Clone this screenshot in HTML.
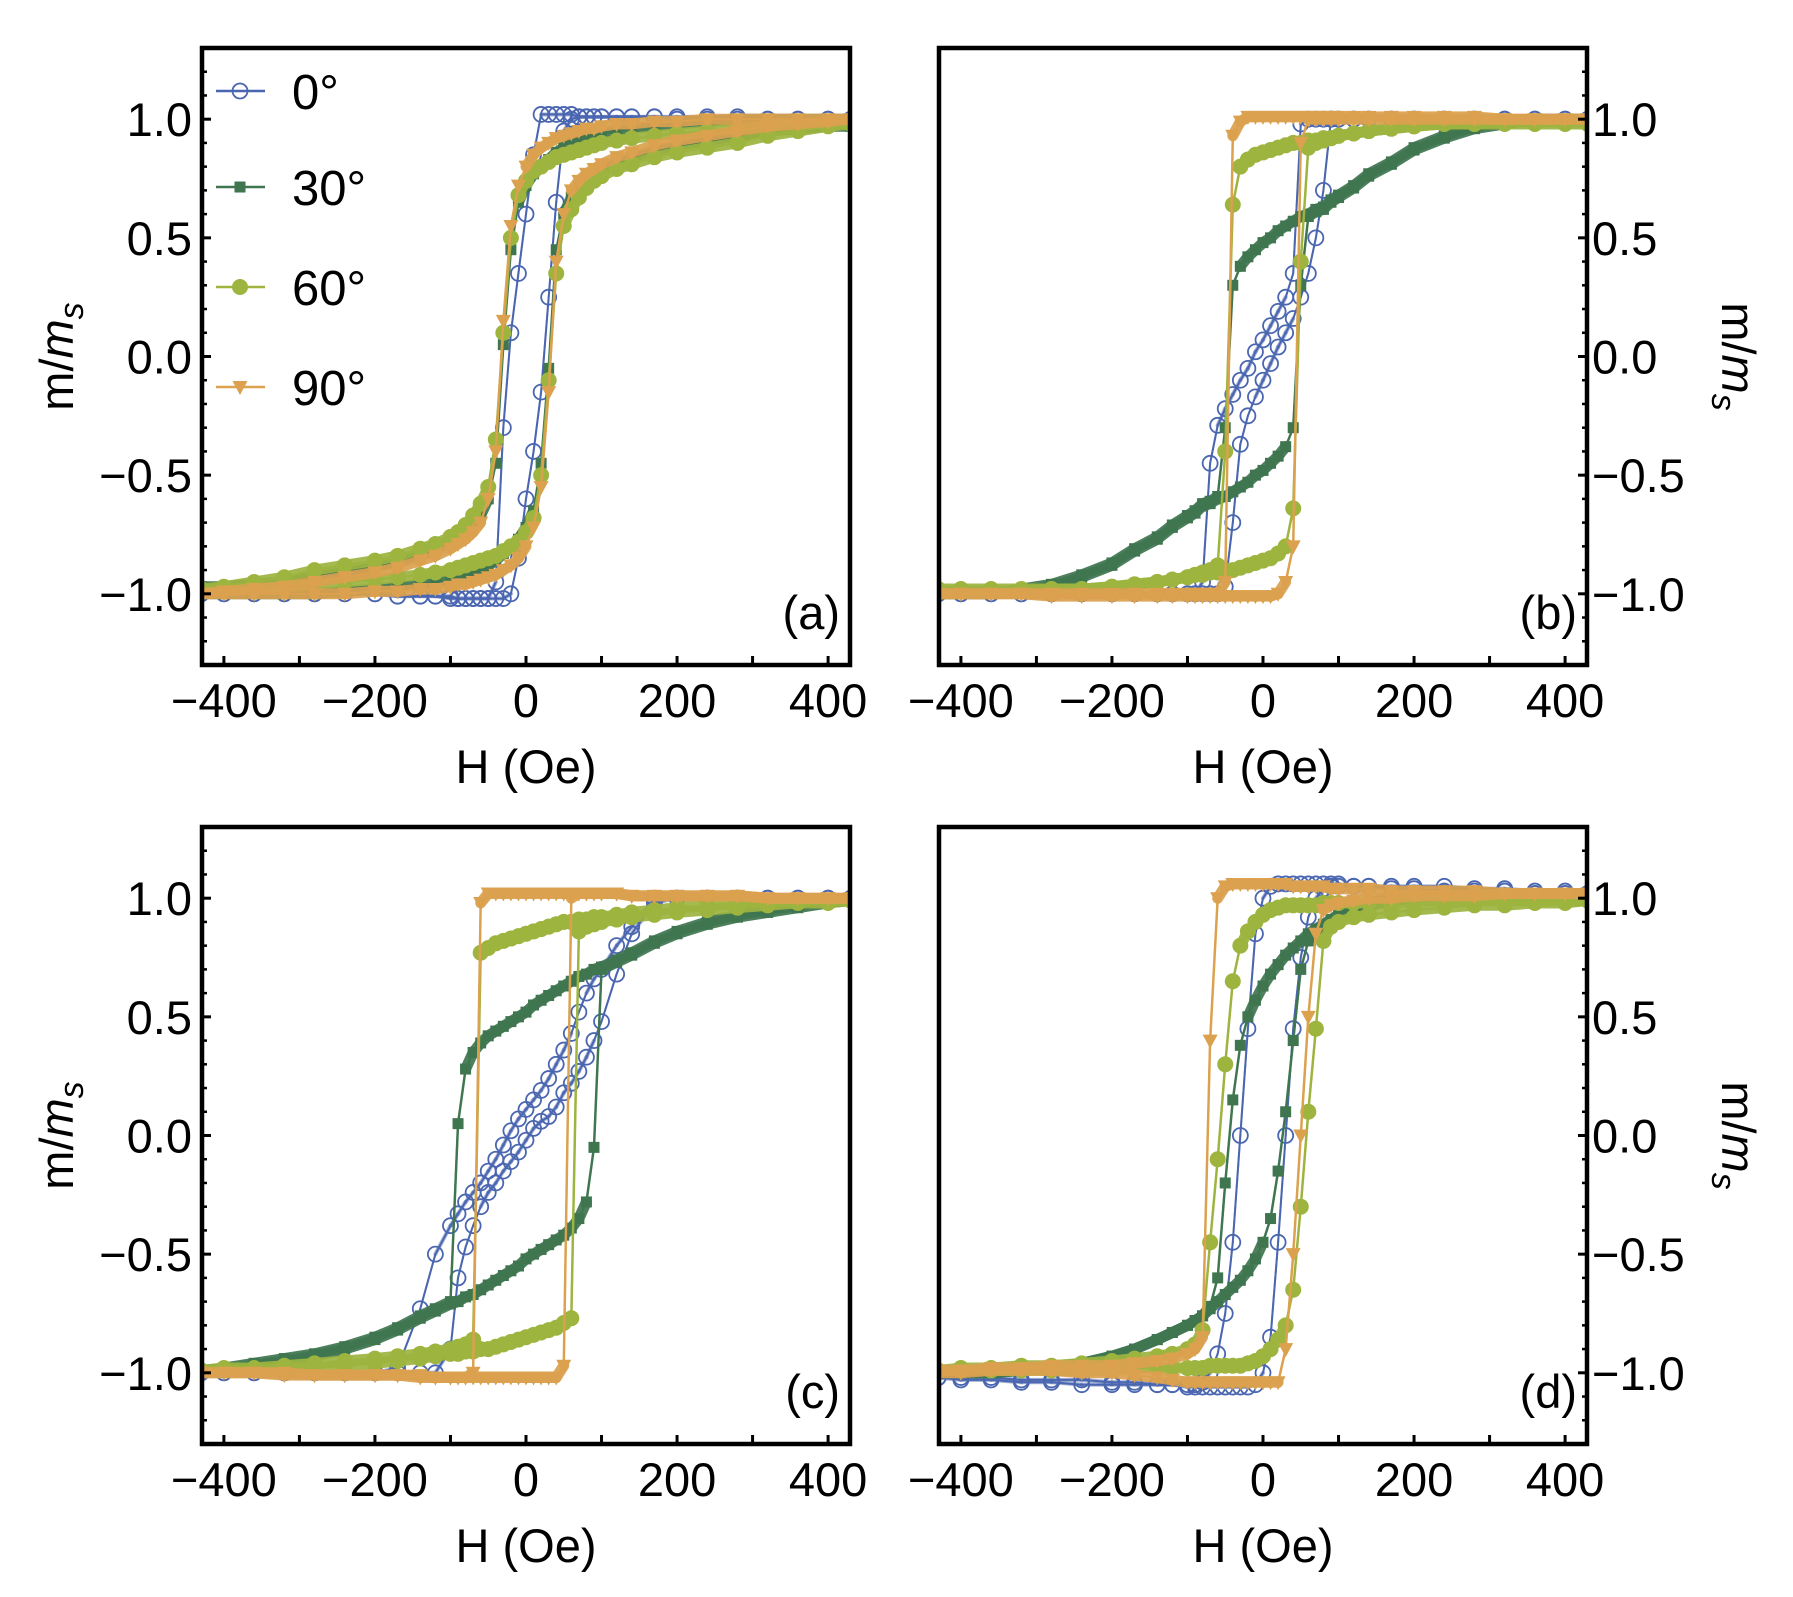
<!DOCTYPE html>
<html><head><meta charset="utf-8">
<style>
html,body{margin:0;padding:0;background:#fff;}
svg{display:block;font-family:"Liberation Sans",Arial,sans-serif;}
</style></head>
<body>
<svg id="fig" xmlns="http://www.w3.org/2000/svg" width="1793" height="1597" viewBox="0 0 1793 1597">
<rect x="0" y="0" width="1793" height="1597" fill="#fff"/>
</svg>
<script>
// ---------- data ----------
const H = [-430,-400,-360,-320,-280,-240,-200,-170,-140,-120,-100,-90,-80,-70,-60,-50,-40,-30,-20,-10,0,10,20,30,40,50,60,70,80,90,100,120,140,170,200,240,280,320,360,400,430];
const seriesNames = ["0°","30°","60°","90°"];
const xTicks = [-400,-200,0,200,400];
const yTicks = [-1.0,-0.5,0.0,0.5,1.0];

// panel (a)
const a0Up = [-1,-1,-1,-1,-1,-1,-1,-1.01,-1.01,-1.01,-1.02,-1.02,-1.02,-1.02,-1.02,-1.02,-0.95,-0.3,0.1,0.35,0.6,0.85,1.02,1.02,1.02,1.02,1.02,1.01,1.01,1.01,1.01,1.01,1.01,1.01,1.01,1.01,1.01,1,1,1,1];
const a0Lo = [-1,-1,-1,-1,-1,-1,-1,-1.01,-1.01,-1.01,-1.01,-1.02,-1.02,-1.02,-1.02,-1.02,-1.02,-1.02,-1.0,-0.85,-0.6,-0.4,-0.15,0.25,0.65,0.95,1.0,1.01,1.01,1.01,1.01,1.01,1.01,1.01,1.0,1.0,1.0,1.0,1.0,1.0,1.0];
const a1Up = [-0.97,-0.97,-0.96,-0.95,-0.93,-0.91,-0.89,-0.87,-0.84,-0.82,-0.79,-0.77,-0.75,-0.72,-0.67,-0.6,-0.45,0.05,0.45,0.65,0.72,0.77,0.8,0.83,0.86,0.88,0.9,0.91,0.92,0.93,0.94,0.95,0.96,0.97,0.98,0.99,1,1,1,1,1];
const a1Lo = [-1,-1,-1,-1,-1,-0.99,-0.98,-0.97,-0.96,-0.95,-0.94,-0.93,-0.92,-0.91,-0.9,-0.88,-0.86,-0.83,-0.8,-0.77,-0.72,-0.65,-0.45,-0.05,0.45,0.6,0.67,0.72,0.75,0.77,0.79,0.82,0.84,0.87,0.89,0.91,0.93,0.95,0.96,0.97,0.97];
const a2Up = [-0.98,-0.97,-0.95,-0.93,-0.9,-0.88,-0.86,-0.84,-0.81,-0.79,-0.76,-0.74,-0.71,-0.67,-0.62,-0.55,-0.35,0.1,0.5,0.68,0.74,0.78,0.8,0.82,0.84,0.85,0.86,0.87,0.88,0.89,0.9,0.91,0.92,0.93,0.94,0.95,0.96,0.97,0.98,0.98,0.98];
const a2Lo = [-0.98,-0.98,-0.98,-0.97,-0.96,-0.95,-0.94,-0.93,-0.92,-0.91,-0.9,-0.89,-0.88,-0.87,-0.86,-0.85,-0.84,-0.82,-0.8,-0.78,-0.74,-0.68,-0.5,-0.1,0.35,0.55,0.62,0.67,0.71,0.74,0.76,0.79,0.81,0.84,0.86,0.88,0.9,0.93,0.95,0.97,0.98];
const a3Up = [-1,-0.99,-0.98,-0.97,-0.95,-0.93,-0.91,-0.89,-0.86,-0.84,-0.81,-0.79,-0.77,-0.74,-0.7,-0.6,-0.4,0.15,0.55,0.72,0.8,0.85,0.88,0.9,0.92,0.93,0.94,0.95,0.96,0.96,0.97,0.98,0.98,0.99,0.99,1,1,1,1,1,1];
const a3Lo = [-1,-1,-1,-1,-1,-1,-0.99,-0.99,-0.98,-0.98,-0.97,-0.96,-0.96,-0.95,-0.94,-0.93,-0.92,-0.9,-0.88,-0.85,-0.8,-0.72,-0.55,-0.15,0.4,0.6,0.7,0.74,0.77,0.79,0.81,0.84,0.86,0.89,0.91,0.93,0.95,0.97,0.98,0.99,1];

// panel (b)
const b0Up = [-1,-1,-1,-1,-1,-1,-1,-1,-1,-1,-1,-1,-0.95,-0.45,-0.29,-0.22,-0.16,-0.1,-0.05,0.02,0.07,0.13,0.19,0.25,0.35,0.98,1,1,1,1,1,1,1,1,1,1,1,1,1,1,1];
const b0Lo = [-1,-1,-1,-1,-1,-1,-1,-1,-1,-1,-1,-1,-1,-1,-1,-0.97,-0.7,-0.37,-0.25,-0.17,-0.1,-0.03,0.04,0.1,0.16,0.25,0.35,0.5,0.7,1,1,1,1,1,1,1,1,1,1,1,1];
const b1Up = [-1,-1,-1,-0.98,-0.96,-0.92,-0.87,-0.81,-0.76,-0.71,-0.67,-0.65,-0.62,-0.61,-0.59,-0.3,0.3,0.38,0.42,0.45,0.48,0.5,0.53,0.55,0.57,0.59,0.6,0.62,0.63,0.66,0.68,0.72,0.77,0.82,0.88,0.93,0.97,0.99,1,1,1];
const b1Lo = [-1,-1,-1,-0.99,-0.97,-0.93,-0.88,-0.82,-0.77,-0.72,-0.68,-0.66,-0.63,-0.62,-0.6,-0.59,-0.57,-0.55,-0.53,-0.5,-0.48,-0.45,-0.42,-0.38,-0.3,0.3,0.59,0.61,0.62,0.65,0.67,0.71,0.76,0.81,0.87,0.92,0.96,0.98,1,1,1];
const b2Up = [-0.99,-0.99,-0.99,-0.99,-0.98,-0.98,-0.97,-0.96,-0.95,-0.94,-0.93,-0.92,-0.91,-0.9,-0.88,-0.4,0.64,0.8,0.83,0.85,0.86,0.87,0.88,0.89,0.9,0.9,0.91,0.91,0.92,0.92,0.93,0.94,0.95,0.96,0.97,0.98,0.98,0.98,0.98,0.98,0.98];
const b2Lo = [-0.98,-0.98,-0.98,-0.98,-0.98,-0.98,-0.97,-0.96,-0.95,-0.94,-0.93,-0.92,-0.92,-0.91,-0.91,-0.9,-0.9,-0.89,-0.88,-0.87,-0.86,-0.85,-0.83,-0.8,-0.64,0.4,0.88,0.9,0.91,0.92,0.93,0.94,0.95,0.96,0.97,0.98,0.98,0.99,0.99,0.99,0.99];
const b3Up = [-1,-1,-1,-1,-1,-1,-1,-1,-1,-1,-1,-1,-1,-1,-1,-0.95,0.93,0.99,1.01,1.01,1.01,1.01,1.01,1.01,1.01,1.01,1.01,1.01,1.01,1.01,1.01,1.01,1.01,1.01,1.01,1.01,1.01,1.0,1.0,1.0,1.0];
const b3Lo = [-1,-1,-1,-1,-1.01,-1.01,-1.01,-1.01,-1.01,-1.01,-1.01,-1.01,-1.01,-1.01,-1.01,-1.01,-1.01,-1.01,-1.01,-1.01,-1.01,-1.01,-1.0,-0.95,-0.8,0.9,1,1,1,1,1,1,1,1,1,1,1,1,1,1,1];

// panel (c)
const c0Up = [-1,-1,-1,-1,-1,-1,-1,-0.98,-0.73,-0.5,-0.38,-0.33,-0.28,-0.24,-0.2,-0.15,-0.1,-0.04,0.02,0.07,0.11,0.15,0.19,0.24,0.3,0.36,0.43,0.52,0.6,0.66,0.7,0.8,0.88,1,1,1,1,1,1,1,1];
const c0Lo = [-1,-1,-1,-1,-1,-1,-1,-1,-1,-1,-0.9,-0.6,-0.47,-0.38,-0.3,-0.24,-0.2,-0.15,-0.11,-0.07,-0.02,0.03,0.06,0.08,0.12,0.18,0.22,0.27,0.33,0.4,0.48,0.68,0.85,0.98,1,1,1,1,1,1,1];
const c1Up = [-0.99,-0.98,-0.96,-0.94,-0.92,-0.89,-0.85,-0.81,-0.76,-0.73,-0.7,0.05,0.28,0.35,0.39,0.42,0.44,0.46,0.48,0.5,0.52,0.55,0.57,0.59,0.61,0.63,0.65,0.67,0.68,0.7,0.71,0.74,0.77,0.82,0.86,0.9,0.93,0.95,0.97,0.99,1.0];
const c1Lo = [-1.0,-0.99,-0.97,-0.95,-0.93,-0.9,-0.86,-0.82,-0.77,-0.74,-0.71,-0.7,-0.68,-0.67,-0.65,-0.63,-0.61,-0.59,-0.57,-0.55,-0.52,-0.5,-0.48,-0.46,-0.44,-0.42,-0.39,-0.35,-0.28,-0.05,0.7,0.73,0.76,0.81,0.85,0.89,0.92,0.94,0.96,0.98,0.99];
const c2Up = [-0.99,-0.98,-0.98,-0.97,-0.96,-0.95,-0.94,-0.93,-0.92,-0.91,-0.9,-0.89,-0.88,-0.86,0.77,0.79,0.81,0.82,0.83,0.84,0.85,0.86,0.87,0.88,0.89,0.9,0.9,0.91,0.91,0.92,0.92,0.93,0.94,0.95,0.96,0.97,0.98,0.98,0.99,0.99,0.99];
const c2Lo = [-0.99,-0.99,-0.99,-0.98,-0.98,-0.97,-0.96,-0.95,-0.94,-0.93,-0.92,-0.92,-0.91,-0.91,-0.9,-0.9,-0.89,-0.88,-0.87,-0.86,-0.85,-0.84,-0.83,-0.82,-0.81,-0.79,-0.77,0.86,0.88,0.89,0.9,0.91,0.92,0.93,0.94,0.95,0.96,0.97,0.98,0.98,0.99];
const c3Up = [-1,-1,-1,-1.01,-1.01,-1.01,-1.01,-1.01,-1.02,-1.02,-1.02,-1.02,-1.02,-1.0,0.98,1.02,1.02,1.02,1.02,1.02,1.02,1.02,1.02,1.02,1.02,1.02,1.02,1.02,1.02,1.02,1.02,1.02,1.01,1.01,1.01,1.01,1.01,1.0,1.0,1.0,1.0];
const c3Lo = [-1,-1,-1,-1,-1.01,-1.01,-1.01,-1.01,-1.01,-1.02,-1.02,-1.02,-1.02,-1.02,-1.02,-1.02,-1.02,-1.02,-1.02,-1.02,-1.02,-1.02,-1.02,-1.02,-1.02,-0.97,1.0,1.02,1.02,1.02,1.02,1.02,1.01,1.01,1.01,1.01,1.01,1.0,1.0,1.0,1.0];

// panel (d)
const d0Up = [-1.02,-1.03,-1.03,-1.04,-1.04,-1.05,-1.05,-1.05,-1.05,-1.05,-1.05,-1.05,-1.04,-1.0,-0.92,-0.75,-0.45,0.0,0.45,0.85,1.0,1.05,1.06,1.06,1.06,1.06,1.06,1.06,1.06,1.06,1.06,1.05,1.05,1.04,1.04,1.03,1.03,1.03,1.02,1.02,1.02];
const d0Lo = [-1.02,-1.02,-1.02,-1.03,-1.03,-1.03,-1.04,-1.04,-1.05,-1.05,-1.06,-1.06,-1.06,-1.06,-1.06,-1.06,-1.06,-1.06,-1.06,-1.05,-1.0,-0.85,-0.45,0.0,0.45,0.75,0.92,1.0,1.04,1.05,1.05,1.05,1.05,1.05,1.05,1.05,1.04,1.04,1.03,1.03,1.02];
const d1Up = [-1,-1,-1,-0.99,-0.98,-0.96,-0.93,-0.9,-0.86,-0.83,-0.8,-0.78,-0.76,-0.72,-0.6,-0.2,0.15,0.38,0.5,0.57,0.63,0.68,0.72,0.76,0.79,0.82,0.85,0.87,0.89,0.91,0.93,0.96,0.98,1.0,1.01,1.02,1.02,1.02,1.02,1.02,1.02];
const d1Lo = [-1,-1,-1,-0.99,-0.98,-0.96,-0.93,-0.9,-0.86,-0.83,-0.8,-0.78,-0.76,-0.73,-0.7,-0.67,-0.64,-0.61,-0.57,-0.52,-0.45,-0.35,-0.15,0.1,0.4,0.7,0.82,0.86,0.88,0.9,0.92,0.95,0.97,0.99,1.0,1.01,1.02,1.02,1.02,1.02,1.02];
const d2Up = [-0.99,-0.98,-0.98,-0.97,-0.97,-0.96,-0.95,-0.94,-0.93,-0.92,-0.9,-0.88,-0.82,-0.45,-0.1,0.3,0.65,0.8,0.86,0.9,0.93,0.95,0.96,0.97,0.97,0.97,0.97,0.97,0.98,0.98,0.98,0.98,0.98,0.98,0.99,0.99,0.99,0.99,0.99,0.99,0.99];
const d2Lo = [-0.99,-0.99,-0.99,-0.99,-0.99,-0.99,-0.99,-0.98,-0.98,-0.98,-0.98,-0.98,-0.98,-0.97,-0.97,-0.97,-0.97,-0.97,-0.96,-0.95,-0.93,-0.9,-0.86,-0.8,-0.65,-0.3,0.1,0.45,0.82,0.88,0.9,0.92,0.93,0.94,0.95,0.96,0.97,0.97,0.98,0.98,0.99];
const d3Up = [-0.99,-0.99,-0.98,-0.98,-0.97,-0.97,-0.97,-0.96,-0.95,-0.94,-0.92,-0.9,-0.85,0.4,1.0,1.05,1.06,1.06,1.06,1.06,1.06,1.06,1.06,1.06,1.05,1.05,1.05,1.05,1.05,1.04,1.04,1.04,1.04,1.03,1.03,1.03,1.03,1.02,1.02,1.02,1.02];
const d3Lo = [-1,-1,-0.99,-0.99,-0.99,-1.0,-1.0,-1.01,-1.02,-1.03,-1.04,-1.04,-1.04,-1.04,-1.04,-1.04,-1.04,-1.04,-1.04,-1.04,-1.04,-1.04,-1.04,-0.9,-0.5,0.0,0.5,0.85,0.95,0.97,0.98,0.99,1.0,1.0,1.01,1.01,1.01,1.02,1.02,1.02,1.02];

// ---------- drawing ----------
const NS = "http://www.w3.org/2000/svg";
const svg = document.getElementById("fig");
const COLORS = ["#4a66b0","#3f7650","#9db43f","#dba14f"];
const XMIN = -429, XMAX = 429, YMIN = -1.3, YMAX = 1.3;

function mk(tag, attrs, parent){
  const e = document.createElementNS(NS, tag);
  for (const k in attrs) e.setAttribute(k, attrs[k]);
  (parent || svg).appendChild(e);
  return e;
}
function fmtTick(v){ const s = Math.abs(v).toFixed(1); return v < 0 ? "\u2212" + s : s; }
function fmtX(v){ return v < 0 ? "\u2212" + Math.abs(v) : String(v); }

function drawMarker(g, kind, cx, cy, color){
  let m;
  if (kind === 0){
    m = mk("circle", {cx:cx, cy:cy, r:7.5, fill:"none", stroke:color, "stroke-width":1.8}, g);
  } else if (kind === 1){
    m = mk("rect", {x:cx-5.5, y:cy-5.5, width:11, height:11, fill:color}, g);
  } else if (kind === 2){
    m = mk("circle", {cx:cx, cy:cy, r:8, fill:color}, g);
  } else {
    m = mk("polygon", {points:(cx-7.5)+","+(cy-6)+" "+(cx+7.5)+","+(cy-6)+" "+cx+","+(cy+8), fill:color}, g);
  }
  
  
  return m;
}

function drawPanel(id, L, T, R, B, side, label, series){
  const g = mk("g", {});
  
  
  const sx = h => L + (h - XMIN) / (XMAX - XMIN) * (R - L);
  const sy = m => T + (YMAX - m) / (YMAX - YMIN) * (B - T);

  const clip = mk("clipPath", {id:"clip-" + id}, g);
  mk("rect", {x:L, y:T, width:R-L, height:B-T}, clip);
  const plot = mk("g", {"clip-path":"url(#clip-" + id + ")"}, g);
  
  

  series.forEach((br, k) => {
    const col = COLORS[k];
    const sg = mk("g", {}, plot);
    
    
    [br[0], br[1]].forEach((vals, bi) => {
      const px = vals.map((v, i) => [sx(H[i]), sy(v)]);
      // dense-band underlay: thick on shallow segments, thin on steep switching segments
      for (let i = 0; i < px.length - 1; i++){
        const dx = Math.abs(px[i+1][0] - px[i][0]), dy = Math.abs(px[i+1][1] - px[i][1]);
        const steep = dy > 2.2 * dx;
        const w = k === 0 ? (steep ? 2 : 4) : (steep ? 2.5 : 11);
        const seg = mk("line", {x1:px[i][0], y1:px[i][1], x2:px[i+1][0], y2:px[i+1][1], stroke:col, "stroke-width":w, "stroke-linecap":"round", opacity: k === 0 ? 0.5 : 0.92}, sg);
        
        
      }
      const pts = px.map(p => p[0].toFixed(1) + "," + p[1].toFixed(1)).join(" ");
      const pl = mk("polyline", {points:pts, fill:"none", stroke:col, "stroke-width":2}, sg);
      
      
      vals.forEach((v, i) => drawMarker(sg, k, sx(H[i]), sy(v), col));
    });
  });

  const tg = mk("g", {stroke:"#000", "stroke-width":3}, g);
  
  
  for (let h = -400; h <= 400; h += 100){
    mk("line", {x1:sx(h), x2:sx(h), y1:B, y2:B-9}, tg);
  }
  const ax = side === "left" ? L : R, dir = side === "left" ? 1 : -1;
  for (let t = -13; t <= 13; t++){
    const v = t / 10, major = (t % 5 === 0);
    mk("line", {x1:ax, x2:ax + dir * (major ? 9 : 5), y1:sy(v), y2:sy(v), "stroke-width": major ? 3 : 2.5}, tg);
  }

  const fr = mk("rect", {x:L, y:T, width:R-L, height:B-T, fill:"none", stroke:"#000", "stroke-width":4.5}, g);
  
  

  xTicks.forEach(v => {
    const t = mk("text", {x:sx(v), y:B+52, "text-anchor":"middle", "font-size":47, fill:"#000"}, g);
    t.textContent = fmtX(v);
    
    
  });
  yTicks.forEach(v => {
    const t = mk("text", side === "left"
      ? {x:L-10, y:sy(v)+17, "text-anchor":"end", "font-size":47, fill:"#000"}
      : {x:R+5, y:sy(v)+17, "text-anchor":"start", "font-size":47, fill:"#000"}, g);
    t.textContent = fmtTick(v);
    
    
  });
  const xt = mk("text", {x:(L+R)/2, y:B+118, "text-anchor":"middle", "font-size":47, fill:"#000"}, g);
  xt.textContent = "H (Oe)";
  
  
  const cy = (T+B)/2;
  const yt = side === "left"
    ? mk("text", {x:0, y:0, "text-anchor":"middle", "font-size":47, fill:"#000", transform:"translate(73," + cy + ") rotate(-90)"}, g)
    : mk("text", {x:0, y:0, "text-anchor":"middle", "font-size":47, fill:"#000", transform:"translate(1722," + cy + ") rotate(90)"}, g);
  
  
  const t1 = mk("tspan", {}, yt); t1.textContent = "m/";
  const t2 = mk("tspan", {"font-style":"italic"}, yt); t2.textContent = "m";
  const t3 = mk("tspan", {"font-style":"italic", "font-size":34, dy:10}, yt); t3.textContent = "s";
  const pl = mk("text", {x:R-10, y:sy(-1.0)+35, "text-anchor":"end", "font-size":47, fill:"#000"}, g);
  pl.textContent = label;
  
  
  return {sx, sy, g};
}

drawPanel("a", 202, 48, 850, 665, "left", "(a)", [[a0Up,a0Lo],[a1Up,a1Lo],[a2Up,a2Lo],[a3Up,a3Lo]]);
drawPanel("b", 939, 48, 1587, 665, "right", "(b)", [[b0Up,b0Lo],[b1Up,b1Lo],[b2Up,b2Lo],[b3Up,b3Lo]]);
drawPanel("c", 202, 827, 850, 1444, "left", "(c)", [[c0Up,c0Lo],[c1Up,c1Lo],[c2Up,c2Lo],[c3Up,c3Lo]]);
drawPanel("d", 939, 827, 1587, 1444, "right", "(d)", [[d0Up,d0Lo],[d1Up,d1Lo],[d2Up,d2Lo],[d3Up,d3Lo]]);

const lg = mk("g", {});


const legendY = [91, 187, 287, 387];
seriesNames.forEach((nm, k) => {
  const eg = mk("g", {}, lg);
  
  
  mk("line", {x1:216, x2:265, y1:legendY[k], y2:legendY[k], stroke:COLORS[k], "stroke-width":2.5}, eg);
  drawMarker(eg, k, 240, legendY[k], COLORS[k]);
  const t = mk("text", {x:292, y:legendY[k]+18, "font-size":49, fill:"#000"}, eg);
  t.textContent = nm;
  
  
});
</script>
</body></html>
